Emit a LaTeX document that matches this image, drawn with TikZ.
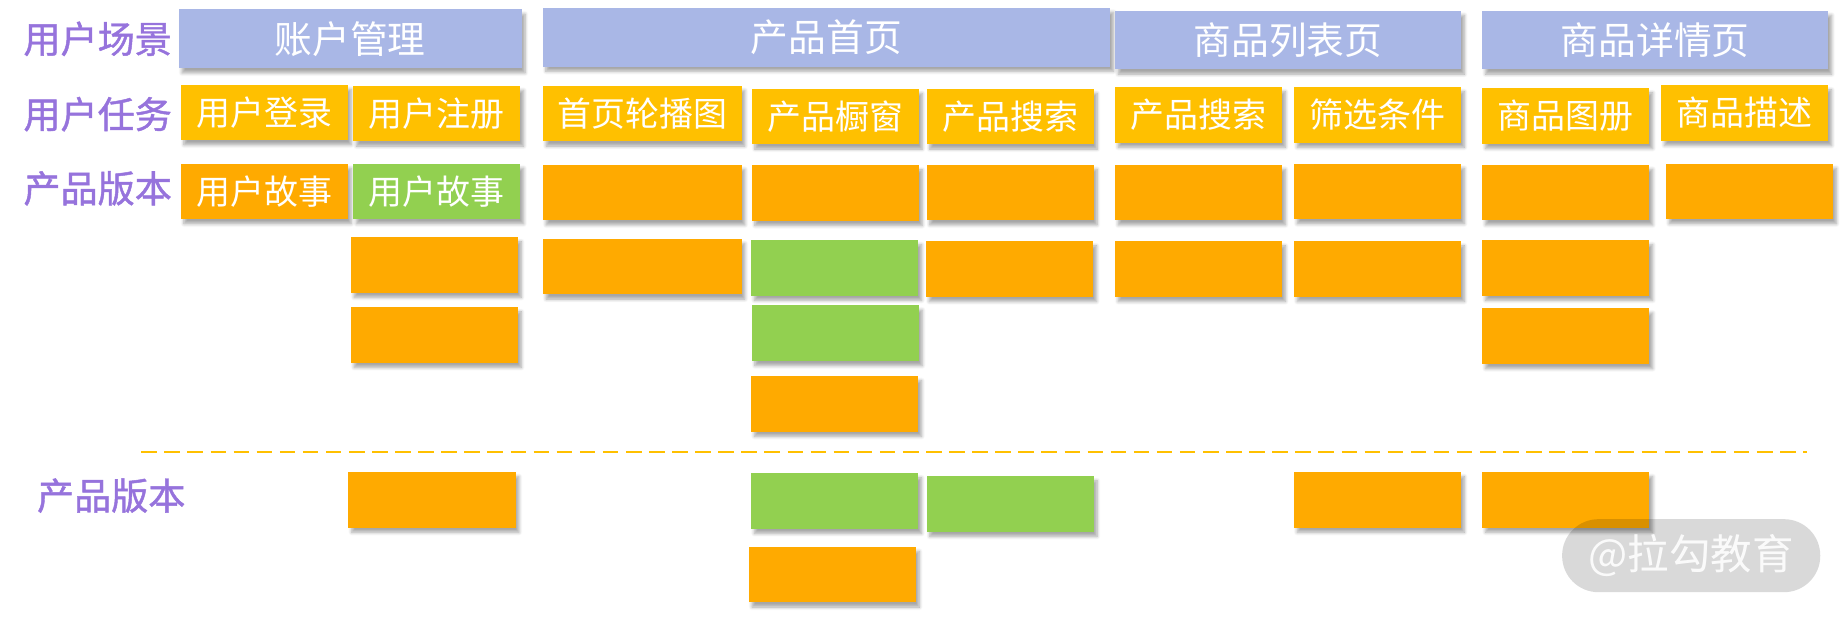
\documentclass[tikz,border=0pt]{standalone}
\usepackage{fontspec}
\usetikzlibrary{shadows.blur}
\newfontfamily\cjk{Noto Sans CJK SC}
\newfontfamily\cjkheavy[FakeBold=1.2]{Noto Sans CJK SC}
\definecolor{headblue}{HTML}{A9B7E6}
\definecolor{taskgold}{HTML}{FFC000}
\definecolor{storyorange}{HTML}{FFAA00}
\definecolor{storygreen}{HTML}{92D050}
\definecolor{labelpurple}{HTML}{9673DC}

\begin{document}
\begin{tikzpicture}[x=0.025cm, y=-0.025cm,
    card/.style={minimum width=3.55cm, minimum height=1.18cm, inner sep=0pt, text=white,
        font=\cjk\fontsize{20.5}{22}\selectfont,
        blur shadow={shadow xshift=0.07cm, shadow yshift=-0.1cm, shadow blur radius=0.07cm,
            shadow blur steps=6, shadow opacity=35}},
    wide/.style={minimum width=4.22cm},
    head/.style={card, fill=headblue, minimum height=1.25cm, font=\cjk\fontsize{22.8}{24}\selectfont},
    task/.style={card, fill=taskgold},
    story/.style={card, fill=storyorange},
    storyok/.style={card, fill=storygreen},
    rowlabel/.style={text=labelpurple, inner sep=0pt, font=\cjkheavy\fontsize{22.4}{24}\selectfont},
    cut/.style={draw=taskgold, line width=1.2pt, dash pattern=on 0.33cm off 0.16cm},
    wmark/.style={fill=black, fill opacity=0.15, text=white, text opacity=0.9, rounded corners=0.77cm,
        minimum width=5.48cm, minimum height=1.55cm, font=\cjk\fontsize{25}{27}\selectfont}]
    \useasboundingbox (0,0) rectangle (1568,524);

    % row labels
    \node [rowlabel] (lblScene) at (83,33) {用户场景};
    \node [rowlabel] (lblTask) at (83,97) {用户任务};
    \node [rowlabel] (lblRelease) at (83,160) {产品版本};
    \node [rowlabel] (lblNext) at (94.5,421) {产品版本};

    % scenes
    \node [head, minimum width=7.28cm] (account) at (297.5,33) {账户管理};
    \node [head, minimum width=12.05cm] (home) at (702,31.5) {产品首页};
    \node [head, minimum width=7.35cm] (list) at (1094,34) {商品列表页};
    \node [head, minimum width=7.35cm] (detail) at (1406,34) {商品详情页};

    % tasks
    \node [task] (login) at (224.5,95.5) {用户登录};
    \node [task] (signup) at (371,96.5) {用户注册};
    \node [task, wide] (banner) at (545.5,96.5) {首页轮播图};
    \node [task] (showcase) at (709.5,99) {产品橱窗};
    \node [task] (search) at (858,99) {产品搜索};
    \node [task] (listSearch) at (1018,97.5) {产品搜索};
    \node [task] (filter) at (1170,97.5) {筛选条件};
    \node [task] (album) at (1330,98.5) {商品图册};
    \node [task] (desc) at (1482,96) {商品描述};

    % stories
    \node [story] (loginA) at (224.5,162.5) {用户故事};
    \node [storyok] (signupA) at (371,162.5) {用户故事};
    \node [story] (signupB) at (369,225) {};
    \node [story] (signupC) at (369,284.5) {};
    \node [story, wide] (bannerA) at (545.5,163.5) {};
    \node [story, wide] (bannerB) at (545.5,226.5) {};
    \node [story] (showcaseA) at (709.5,164) {};
    \node [storyok] (showcaseB) at (709,227.5) {};
    \node [storyok] (showcaseC) at (709.5,283) {};
    \node [story] (showcaseD) at (709,343) {};
    \node [story] (searchA) at (858,163.5) {};
    \node [story] (searchB) at (857.5,228.5) {};
    \node [story] (listSearchA) at (1018,163.5) {};
    \node [story] (listSearchB) at (1018,228.5) {};
    \node [story] (filterA) at (1170,162.5) {};
    \node [story] (filterB) at (1170,228.5) {};
    \node [story] (albumA) at (1330,163.5) {};
    \node [story] (albumB) at (1330,227.5) {};
    \node [story] (albumC) at (1330,285.5) {};
    \node [story] (descA) at (1486,162.5) {};

    % release line
    \coordinate (cutL) at (120,384);
    \coordinate (cutR) at (1535,384);
    \draw [cut] (cutL) -- (cutR);

    % next release
    \node [story] (nextSignup) at (367,424.5) {};
    \node [storyok] (nextShowcase) at (709,425.5) {};
    \node [story] (nextShowcaseB) at (707,488) {};
    \node [storyok] (nextSearch) at (858,428) {};
    \node [story] (nextFilter) at (1170,424.5) {};
    \node [story] (nextAlbum) at (1330,424.5) {};

    \node [wmark] (wm) at (1436.5,472) {@拉勾教育};
\end{tikzpicture}
\end{document}
